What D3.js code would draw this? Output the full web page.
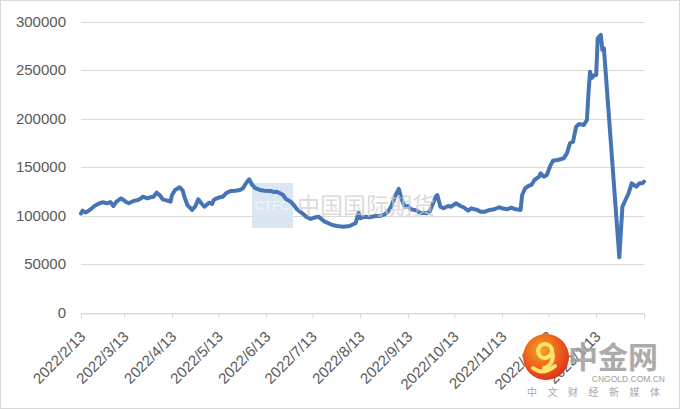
<!DOCTYPE html>
<html><head><meta charset="utf-8">
<script src="https://cdn.jsdelivr.net/npm/d3@7"></script>
<style>body{margin:0;background:#fff}svg{display:block}</style>
</head><body>
<svg id="c" width="680" height="409"></svg>
<script>
const dates = ["2022-02-13","2022-02-14","2022-02-16","2022-02-18","2022-02-20","2022-02-22","2022-02-25","2022-02-27","2022-03-02","2022-03-04","2022-03-06","2022-03-08","2022-03-11","2022-03-14","2022-03-16","2022-03-18","2022-03-20","2022-03-22","2022-03-24","2022-03-25","2022-03-28","2022-03-30","2022-04-01","2022-04-03","2022-04-05","2022-04-07","2022-04-10","2022-04-12","2022-04-13","2022-04-15","2022-04-18","2022-04-20","2022-04-21","2022-04-23","2022-04-26","2022-04-28","2022-04-30","2022-05-02","2022-05-04","2022-05-07","2022-05-09","2022-05-10","2022-05-12","2022-05-14","2022-05-16","2022-05-18","2022-05-21","2022-05-24","2022-05-27","2022-05-29","2022-05-31","2022-06-02","2022-06-04","2022-06-06","2022-06-09","2022-06-12","2022-06-16","2022-06-18","2022-06-20","2022-06-22","2022-06-24","2022-06-26","2022-06-29","2022-07-01","2022-07-03","2022-07-05","2022-07-07","2022-07-09","2022-07-12","2022-07-14","2022-07-17","2022-07-21","2022-07-26","2022-07-29","2022-08-02","2022-08-06","2022-08-10","2022-08-12","2022-08-13","2022-08-16","2022-08-19","2022-08-23","2022-08-26","2022-08-29","2022-08-31","2022-09-02","2022-09-05","2022-09-07","2022-09-09","2022-09-11","2022-09-13","2022-09-15","2022-09-19","2022-09-21","2022-09-23","2022-09-25","2022-09-27","2022-10-01","2022-10-02","2022-10-04","2022-10-06","2022-10-09","2022-10-11","2022-10-14","2022-10-17","2022-10-19","2022-10-22","2022-10-24","2022-10-28","2022-10-30","2022-11-02","2022-11-05","2022-11-08","2022-11-11","2022-11-13","2022-11-16","2022-11-19","2022-11-22","2022-11-25","2022-11-26","2022-11-28","2022-11-30","2022-12-02","2022-12-04","2022-12-07","2022-12-08","2022-12-10","2022-12-12","2022-12-14","2022-12-16","2022-12-19","2022-12-23","2022-12-25","2022-12-27","2022-12-29","2022-12-31","2023-01-02","2023-01-05","2023-01-07","2023-01-08","2023-01-09","2023-01-10","2023-01-12","2023-01-13","2023-01-14","2023-01-16","2023-01-17","2023-01-18","2023-01-28","2023-01-30","2023-02-01","2023-02-03","2023-02-05","2023-02-08","2023-02-10","2023-02-12","2023-02-13"];
const values = [102000,105000,103000,105000,107400,110000,112600,113600,112600,113900,109800,114200,117700,114200,112600,114200,115300,116000,117700,119400,117700,118800,119400,123500,121100,116700,115300,114200,121100,126300,129100,125600,119400,110800,105700,109100,116700,112600,109100,113200,111900,116000,117700,118800,119400,122900,125300,125600,126300,128100,133200,137300,131500,128100,126300,125600,125300,124200,124500,122900,121100,116700,114200,110800,106400,103900,101600,98800,96400,97700,98800,93600,90200,89200,88500,89200,92000,102900,97100,98800,98200,99500,99500,101200,103900,109100,121100,127500,116000,109100,109800,106400,105000,102300,102900,102300,103900,119400,121100,109100,107400,109800,109100,112600,109800,108500,105000,107400,105700,103900,103900,105700,106400,108500,107400,106400,108000,106400,105700,121100,128100,130400,131500,136600,140000,143500,140000,141800,150300,156500,157200,159000,164100,174400,176100,191600,194400,193300,198500,226000,248300,241500,244900,244900,282700,286100,270600,272400,56900,109100,116000,122900,133200,129700,133200,133200,135000];
const tickDates = ["2022-02-13","2022-03-13","2022-04-13","2022-05-13","2022-06-13","2022-07-13","2022-08-13","2022-09-13","2022-10-13","2022-11-13","2022-12-13","2023-01-13","2023-02-13"];
const tickLabels = ["2022/2/13","2022/3/13","2022/4/13","2022/5/13","2022/6/13","2022/7/13","2022/8/13","2022/9/13","2022/10/13","2022/11/13","2022/12/13","2023/1/13",""];
const yTicks = [0,50000,100000,150000,200000,250000,300000];

const parse = d3.timeParse("%Y-%m-%d");
const data = dates.map((d,i)=>({date:parse(d), value:values[i]}));
const svg = d3.select("#c");
const FONT = "'Liberation Sans', Arial, sans-serif";

svg.append("rect").attr("x",0.5).attr("y",0.5).attr("width",679).attr("height",408)
  .attr("fill","#fff").attr("stroke","#d9d9d9").attr("stroke-width",1);

const x = d3.scaleTime().domain([parse(tickDates[0]), parse(tickDates[tickDates.length-1])]).range([81,644]);
const y = d3.scaleLinear().domain([0,300000]).range([312.5,21.5]);

// gridlines
svg.append("g").selectAll("line").data(yTicks).join("line")
  .attr("x1",81).attr("x2",644)
  .attr("y1",d=>Math.round(y(d))+0.5).attr("y2",d=>Math.round(y(d))+0.5)
  .attr("stroke","#d9d9d9").attr("stroke-width",1);

// y labels
const yAxis = d3.axisLeft(y).tickValues(yTicks).tickSize(0).tickPadding(0).tickFormat(d3.format("d"));
const yg = svg.append("g").attr("transform","translate(66,0)").call(yAxis);
yg.select(".domain").remove();
yg.selectAll("text").attr("font-family",FONT).attr("font-size",15).attr("fill","#595959");

// x axis
const xAxis = d3.axisBottom(x).tickValues(tickDates.map(parse)).tickSize(5).tickPadding(0)
  .tickFormat((d,i)=>tickLabels[i]);
const xg = svg.append("g").attr("transform",`translate(0,${Math.round(y(0))+0.5})`).call(xAxis);
xg.select(".domain").attr("stroke","#d9d9d9");
xg.selectAll(".tick line").attr("stroke","#d9d9d9");
xg.selectAll("text").attr("font-family",FONT).attr("font-size",15).attr("fill","#595959")
  .attr("text-anchor","end").attr("dy",0).attr("y",0)
  .attr("transform","translate(5,24) rotate(-45)");

// watermark CTFC box (behind line)
svg.append("rect").attr("x",252).attr("y",183).attr("width",41).attr("height",45).attr("fill","#dbe6f3");
svg.append("text").attr("x",272).attr("y",210).attr("text-anchor","middle").attr("font-family",FONT)
  .attr("font-size",13).attr("fill","#f3f7fb").text("CTFC");

// line
const line = d3.line().x(d=>x(d.date)).y(d=>y(d.value));
svg.append("path").datum(data).attr("d",line).attr("fill","none")
  .attr("stroke","#4674b4").attr("stroke-width",4)
  .attr("stroke-linejoin","round").attr("stroke-linecap","round");

// watermark text
svg.append("text").attr("x",297).attr("y",214).attr("font-family","'Noto Sans CJK SC'")
  .attr("font-size",23).attr("fill","#cfcfcf").attr("opacity",0.75).text("中国国际期货");

// cngold logo
const defs = svg.append("defs");
const rg = defs.append("radialGradient").attr("id","lg").attr("cx","40%").attr("cy","35%").attr("r","70%");
rg.append("stop").attr("offset","0%").attr("stop-color","#f5a623");
rg.append("stop").attr("offset","60%").attr("stop-color","#ec5a1c");
rg.append("stop").attr("offset","100%").attr("stop-color","#d9301a");
svg.append("circle").attr("cx",546).attr("cy",357).attr("r",23).attr("fill","url(#lg)");
svg.append("path").attr("d","M552,352 a7,7 0 1,0 -6,6 a9,9 0 0,0 6,-6 a12,12 0 0,1 -8,16 M533,368 q10,8 22,-2")
  .attr("fill","none").attr("stroke","#fde36b").attr("stroke-width",4).attr("stroke-linecap","round");
svg.append("text").attr("x",568).attr("y",368).attr("font-family","'Noto Sans CJK SC'").attr("font-weight","bold")
  .attr("font-size",30).attr("fill","#a3a3a3").attr("opacity",0.9).text("中金网");
svg.append("text").attr("x",665).attr("y",382).attr("text-anchor","end").attr("font-family",FONT)
  .attr("font-size",8.5).attr("fill","#a0a0a0").text("CNGOLD.COM.CN");
svg.append("text").attr("x",527).attr("y",396).attr("font-family","'Noto Sans CJK SC'")
  .attr("font-size",10).attr("letter-spacing",10.5).attr("fill","#a8a8a8").text("中文财经新媒体");
</script>
</body></html>
